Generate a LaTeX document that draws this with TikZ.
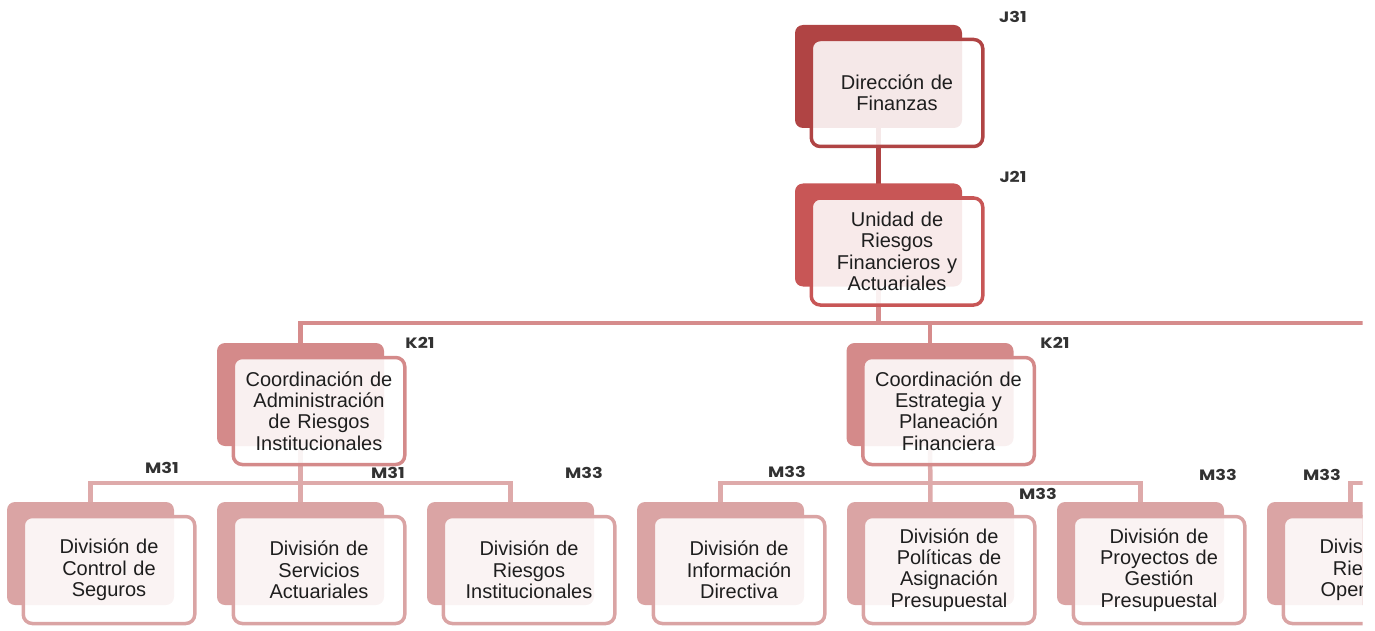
\documentclass[tikz,border=0pt]{standalone}
\usepackage{fontspec}
\setmainfont{Liberation Sans}
\newfontfamily\codefont{Poppins}[FakeStretch=1.18]
\usetikzlibrary{backgrounds}
\definecolor{cA}{RGB}{176,68,68}
\definecolor{cB}{RGB}{200,86,86}
\definecolor{cC}{RGB}{212,138,138}
\definecolor{cD}{RGB}{218,164,164}
\definecolor{lnB}{RGB}{214,140,140}
\definecolor{lnC}{RGB}{222,170,170}
\definecolor{textc}{RGB}{30,30,30}
\definecolor{codec}{RGB}{50,50,50}
\newcommand\orgunit[5]{%
  \node[backbox, fill=#4] (#1b) at (#2,#3) {};
  \node[frontbox, draw=#4] (#1) at (#2+18.5,#3+16.5) {#5};
}
\begin{document}
\begin{tikzpicture}[x=1pt,y=-1pt,
  backbox/.style={rectangle, rounded corners=8pt, minimum width=167pt, minimum height=103pt, inner sep=0pt, outer sep=0pt},
  frontbox/.style={rectangle, rounded corners=9pt, line width=3.5pt, fill=white, fill opacity=0.88, text opacity=1, minimum width=171.5pt, minimum height=107pt, inner sep=0pt, outer sep=0pt, align=center, text width=165pt, font=\fontsize{20}{21.3}\selectfont, text=textc},
  code/.style={font=\codefont\bfseries\fontsize{15}{15}\selectfont, text=codec, inner sep=0pt},
  conA/.style={draw=cA, line width=4.5pt},
  conB/.style={draw=lnB, line width=4.5pt},
  conC/.style={draw=lnC, line width=4.5pt}]
\useasboundingbox (0,0) rectangle (1375,631);
\begin{scope}
\clip (0,0) rectangle (1362.5,631);
\orgunit{j31}{878.5}{76.5}{cA}{Dirección de\\Finanzas}
\orgunit{j21}{878.5}{235}{cB}{Unidad de\\Riesgos\\Financieros y\\Actuariales}
\orgunit{k1}{300.5}{394.5}{cC}{Coordinación de\\Administración\\de Riesgos\\Institucionales}
\orgunit{k2}{930}{394.5}{cC}{Coordinación de\\Estrategia y\\Planeación\\Financiera}
\orgunit{m1}{90.5}{553.5}{cD}{División de\\Control de\\Seguros}
\orgunit{m2}{300.5}{553.5}{cD}{División de\\Servicios\\Actuariales}
\orgunit{m3}{510.5}{553.5}{cD}{División de\\Riesgos\\Institucionales}
\orgunit{m4}{720.5}{553.5}{cD}{División de\\Información\\Directiva}
\orgunit{m5}{930.5}{553.5}{cD}{División de\\Políticas de\\Asignación\\Presupuestal}
\orgunit{m6}{1140.5}{553.5}{cD}{División de\\Proyectos de\\Gestión\\Presupuestal}
\orgunit{m7}{1350.5}{553.5}{cD}{División de\\Riesgos\\Operativos}
\node[code] (lj31) at (1013,17) {J31};
\node[code] (lj21) at (1013,177) {J21};
\node[code] (lk1) at (420,343) {K21};
\node[code] (lk2) at (1055,343) {K21};
\node[code] (lm1) at (162,468) {M31};
\node[code] (lm2) at (388,473) {M31};
\node[code] (lm3) at (584,473) {M33};
\node[code] (lm4) at (787,472) {M33};
\node[code] (lm5) at (1038,494) {M33};
\node[code] (lm6) at (1218,475) {M33};
\node[code] (lm7) at (1322,475) {M33};
\coordinate (busK) at (0,323);
\coordinate (busKend) at (1400,323);
\coordinate (busM) at (0,483);
\coordinate (busMend) at (1400,483);
\end{scope}
\begin{scope}[on background layer]
\clip (0,0) rectangle (1362.5,631);
\draw[conA] (j31b.center) -- (j21b.center);
\draw[conB] (j21b.center) -- (j21b.center |- busK);
\draw[conB] (k1b.center) |- (busKend);
\draw[conB] (k2b.center) -- (k2b.center |- busK);
\draw[conC] (m1b.center) |- (m3b.center |- busM) -- (m3b.center);
\draw[conC] (k1b.center) -- (m2b.center);
\draw[conC] (m4b.center) |- (m6b.center |- busM) -- (m6b.center);
\draw[conC] (k2b.center) -- (m5b.center);
\draw[conC] (m7b.center) |- (busMend);
\end{scope}
\end{tikzpicture}
\end{document}
